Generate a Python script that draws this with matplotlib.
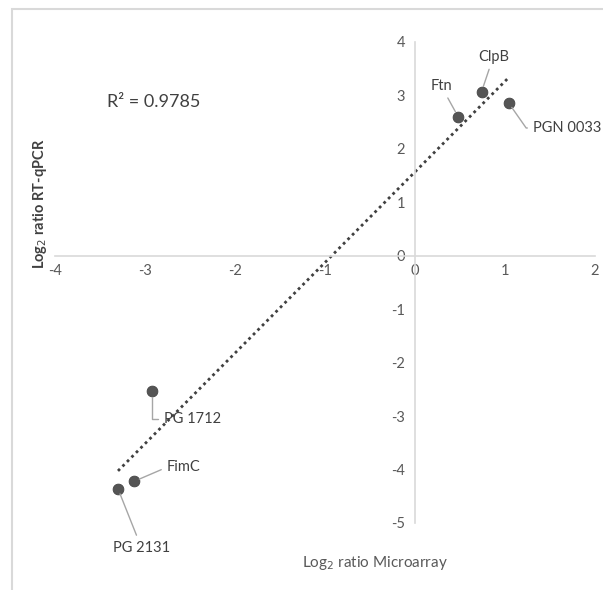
import matplotlib.pyplot as plt
from matplotlib.patches import Rectangle
import numpy as np

# Data
genes = ["Ftn", "ClpB", "PGN 0033", "PG 1712", "FimC", "PG 2131"]
microarray = [0.48, 0.74, 1.04, -2.92, -3.12, -3.30]
rt_qpcr = [2.60, 3.07, 2.86, -2.54, -4.22, -4.36]
x_ticks = [-4, -3, -2, -1, 0, 1, 2]
y_ticks = [-5, -4, -3, -2, -1, 0, 1, 2, 3, 4]
r2_label = "R² = 0.9785"

# label positions (data coords) for each gene, alignment, leader style
label_pos = {
    "Ftn": (0.29, 3.18, "center", "arc3"),
    "ClpB": (0.87, 3.72, "center", "arc3"),
    "PGN 0033": (1.31, 2.39, "left", "angle,angleA=0,angleB=125,rad=0"),
    "PG 1712": (-2.79, -3.05, "left", "angle,angleA=0,angleB=90,rad=0"),
    "FimC": (-2.76, -3.96, "left", "arc3"),
    "PG 2131": (-3.04, -5.46, "center", "arc3"),
}


def main():
    plt.rcParams.update({
        "font.family": ["Lato", "DejaVu Sans"],
        "font.size": 10,
        "axes.unicode_minus": False,
    })

    fig = plt.figure(figsize=(6.03, 5.90), dpi=100)
    ax = fig.add_axes([0.0912, 0.1136, 0.8955, 0.8153])
    ax.set_xlim(-4, 2)
    ax.set_ylim(-5, 4)

    grey = "#d9d9d9"
    text_col = "#595959"
    for s in ["top", "right"]:
        ax.spines[s].set_visible(False)
    ax.spines["left"].set_position(("data", 0))
    ax.spines["bottom"].set_position(("data", 0))
    ax.spines["left"].set_color(grey)
    ax.spines["bottom"].set_color(grey)
    ax.spines["left"].set_linewidth(1.2)
    ax.spines["bottom"].set_linewidth(1.2)

    ax.set_xticks(x_ticks)
    ax.set_yticks(y_ticks)
    ax.tick_params(length=0, labelsize=10.5, colors=text_col)
    ax.tick_params(axis="x", pad=6)
    ax.tick_params(axis="y", pad=7)

    # trend line from a linear fit of the points
    slope, intercept = np.polyfit(microarray, rt_qpcr, 1)
    xs = np.array([min(microarray), max(microarray)])
    ax.plot(xs, slope * xs + intercept, linestyle=(0, (1, 1.3)),
            color="#404040", linewidth=2.0, zorder=2)

    ax.scatter(microarray, rt_qpcr, s=60, color="#555555",
               edgecolor="#444444", linewidth=0.6, zorder=3)

    for g, x, y in zip(genes, microarray, rt_qpcr):
        tx, ty, ha, conn = label_pos[g]
        rel = (0, 0.5) if ha == "left" else (0.5, 0.5)
        ax.annotate(g, xy=(x, y), xytext=(tx, ty), ha=ha, va="center",
                    fontsize=10.5, color="#404040",
                    arrowprops=dict(arrowstyle="-", color="#a6a6a6",
                                    lw=1.0, shrinkA=2, shrinkB=4,
                                    relpos=rel, connectionstyle=conn))

    ax.text(-2.9, 2.88, r2_label, fontsize=13, color="#404040",
            ha="center", va="center")

    fig.text(0.066, 0.655, "Log$_2$ ratio RT-qPCR", rotation=90,
             ha="center", va="center", fontsize=10.5, color="#404040",
             fontweight="bold")
    fig.text(0.622, 0.046, "Log$_2$ ratio Microarray", ha="center",
             va="center", fontsize=11, color=text_col)

    # chart frame (partly cropped in the original)
    fig.add_artist(Rectangle((12 / 603, -0.1), 1.2, 1 - 9 / 590 + 0.1,
                             transform=fig.transFigure, fill=False,
                             edgecolor=grey, linewidth=1.5))

    fig.savefig("out.png", dpi=100)


if __name__ == "__main__":
    main()
